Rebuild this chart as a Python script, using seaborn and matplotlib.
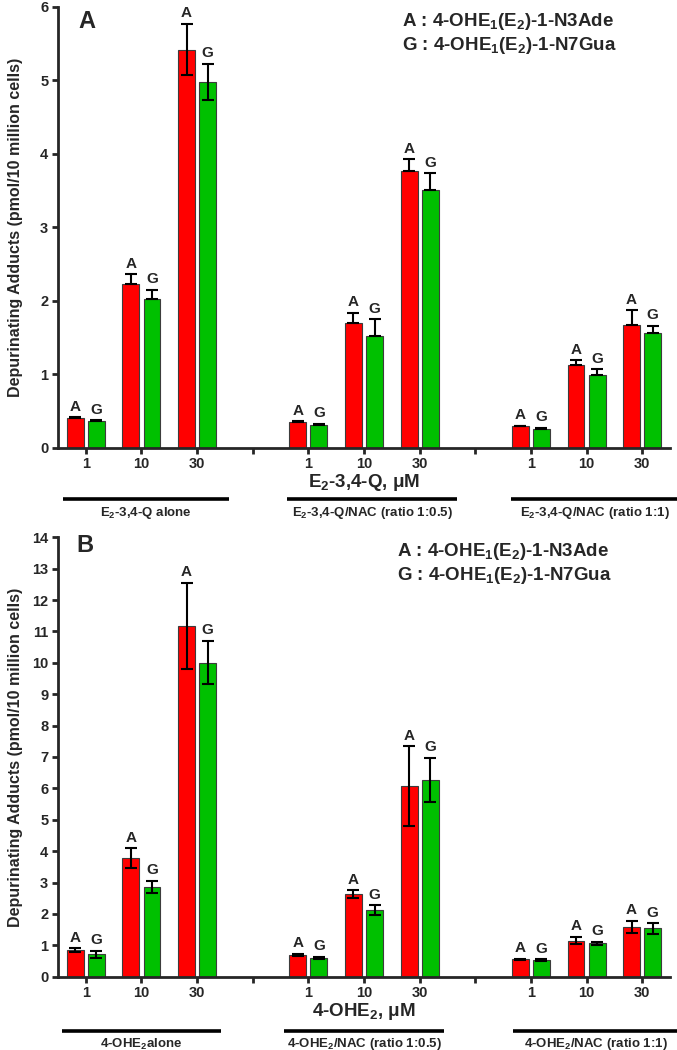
import numpy as np
import pandas as pd
import matplotlib
matplotlib.use("Agg")
import matplotlib.pyplot as plt
import matplotlib.transforms as mtransforms
import seaborn as sns

# ---------------- data ----------------
slots = ['g1_1', 'g1_10', 'g1_30', 'sep1', 'g2_1', 'g2_10', 'g2_30', 'sep2', 'g3_1', 'g3_10', 'g3_30']
slot_labels = ['1', '10', '30', '', '1', '10', '30', '', '1', '10', '30']
data_slots = [s for s in slots if not s.startswith('sep')]
adducts = ['A', 'G']

# Panel A: E2-3,4-Q
a_ade = [0.40, 2.23, 5.42, 0.35, 1.70, 3.77, 0.29, 1.12, 1.67]
a_gua = [0.36, 2.03, 4.98, 0.31, 1.52, 3.51, 0.26, 0.99, 1.56]
a_ade_hi = [0.015, 0.13, 0.35, 0.01, 0.14, 0.16, 0.01, 0.07, 0.20]
a_ade_lo = [0.0, 0.0, 0.35, 0.0, 0.0, 0.0, 0.0, 0.0, 0.0]
a_gua_hi = [0.015, 0.12, 0.25, 0.015, 0.23, 0.23, 0.01, 0.08, 0.10]
a_gua_lo = [0.0, 0.0, 0.25, 0.0, 0.0, 0.0, 0.0, 0.0, 0.0]

# Panel B: 4-OHE2
b_ade = [0.85, 3.77, 11.18, 0.69, 2.63, 6.08, 0.55, 1.15, 1.58]
b_gua = [0.71, 2.87, 10.01, 0.60, 2.12, 6.27, 0.53, 1.06, 1.54]
b_ade_err = [0.06, 0.32, 1.37, 0.04, 0.12, 1.27, 0.02, 0.12, 0.20]
b_gua_err = [0.11, 0.19, 0.70, 0.03, 0.15, 0.71, 0.02, 0.05, 0.17]

ylabel = 'Depurinating Adducts (pmol/10 million cells)'
legend_lines = ['A : 4-OHE$_1$(E$_2$)-1-N3Ade', 'G : 4-OHE$_1$(E$_2$)-1-N7Gua']
a_xlabel = 'E$_2$-3,4-Q, \u03bcM'
b_xlabel = '4-OHE$_2$, \u03bcM'
a_groups = ['E$_2$-3,4-Q alone', 'E$_2$-3,4-Q/NAC (ratio 1:0.5)', 'E$_2$-3,4-Q/NAC (ratio 1:1)']
b_groups = ['4-OHE$_2$alone', '4-OHE$_2$/NAC (ratio 1:0.5)', '4-OHE$_2$/NAC (ratio 1:1)']

# ---------------- style ----------------
sns.set_style('ticks')
plt.rcParams['font.family'] = ['Liberation Sans', 'DejaVu Sans']
plt.rcParams['font.weight'] = 'bold'
plt.rcParams['axes.labelweight'] = 'bold'
plt.rcParams['mathtext.fontset'] = 'custom'
plt.rcParams['mathtext.rm'] = 'Liberation Sans:bold'
plt.rcParams['mathtext.it'] = 'Liberation Sans:bold'
plt.rcParams['mathtext.bf'] = 'Liberation Sans:bold'
plt.rcParams['mathtext.sf'] = 'Liberation Sans:bold'
plt.rcParams['mathtext.default'] = 'rm'

W, H = 677, 1050
fig = plt.figure(figsize=(W / 100, H / 100), dpi=100)

RED = '#FF0000'
GREEN = '#00C000'


def panel(rect_px, ade, gua, ade_lo, ade_hi, gua_lo, gua_hi, ymax, xlabel, groups,
          letter, letter_px, legend_px, below_px, group_lines):
    x0, ytop, x1, ybot = rect_px
    ax = fig.add_axes([x0 / W, 1 - ybot / H, (x1 - x0) / W, (ybot - ytop) / H])
    ah = ybot - ytop
    df = pd.DataFrame({
        'slot': data_slots * 2,
        'adduct': ['A'] * len(ade) + ['G'] * len(gua),
        'value': list(ade) + list(gua),
    })
    sns.barplot(data=df, x='slot', y='value', hue='adduct', order=slots,
                hue_order=adducts, palette={'A': RED, 'G': GREEN},
                width=0.76, gap=0.2, errorbar=None, saturation=1,
                edgecolor='#3c3c3c', linewidth=0.8, legend=False, ax=ax, zorder=2)
    errs = {'A': (ade, ade_lo, ade_hi), 'G': (gua, gua_lo, gua_hi)}
    for cont, ad in zip(ax.containers, adducts):
        means, lo, hi = errs[ad]
        for bar in cont:
            xc = bar.get_x() + bar.get_width() / 2
            i = data_slots.index(slots[int(round(xc))])
            ax.errorbar(xc, means[i], yerr=[[lo[i]], [hi[i]]], fmt='none',
                        ecolor='black', elinewidth=1.5, capsize=4.2, capthick=1.5, zorder=3)
            ax.annotate(ad, (xc, means[i] + hi[i]), xytext=(0, 2.5),
                        textcoords='offset points', ha='center', va='bottom',
                        fontsize=11, fontweight='bold')
    ax.set_ylim(0, ymax)
    ax.set_yticks(range(0, ymax + 1))
    ax.set_xlim(-0.5, 10.5)
    ax.set_xticks(range(len(slots)))
    ax.set_xticklabels(slot_labels)
    ax.set_xlabel('')
    ax.set_ylabel(ylabel, fontsize=11.5, fontweight='bold', labelpad=4)
    sns.despine(ax=ax)
    for sp in ['left', 'bottom']:
        ax.spines[sp].set_linewidth(2)
    ax.tick_params(axis='both', width=2, length=4, labelsize=10.5, direction='out', pad=3)
    for t in ax.get_xticklabels() + ax.get_yticklabels():
        t.set_fontweight('bold')
    ax.yaxis.set_label_coords(-35 / (x1 - x0), 0.5)

    tr = mtransforms.blended_transform_factory(ax.transData, ax.transAxes)
    ax.text(0.5, -(below_px[0] - ybot) / ah, xlabel, transform=ax.transAxes,
            ha='center', va='center', fontsize=13.5, fontweight='bold')
    for (gx0, gx1), g in zip(group_lines, groups):
        yl = -(below_px[1] - ybot) / ah
        ax.plot([gx0, gx1], [yl, yl], transform=tr, color='black', lw=2.6,
                clip_on=False, solid_capstyle='butt')
        ax.text((gx0 + gx1) / 2, -(below_px[2] - ybot) / ah, g, transform=tr,
                ha='center', va='center', fontsize=9.5, fontweight='bold',
                family=['Liberation Sans Narrow', 'Liberation Sans'])

    fig.text(letter_px[0] / W, 1 - letter_px[1] / H, letter, fontsize=17,
             fontweight='bold', ha='center', va='center')
    for k, line in enumerate(legend_lines):
        fig.text(legend_px[0] / W, 1 - legend_px[1 + k] / H, line, fontsize=13.5,
                 fontweight='bold', ha='left', va='center')
    return ax


panel((58, 7, 670, 447.7), a_ade, a_gua, a_ade_lo, a_ade_hi, a_gua_lo, a_gua_hi, 6,
      a_xlabel, a_groups, 'A', (87, 22), (402, 22, 45), (483, 499, 513),
      [(-0.41, 2.58), (3.62, 6.67), (7.64, 10.65)])
panel((58, 537.3, 670, 976.7), b_ade, b_gua, b_ade_err, b_ade_err, b_gua_err, b_gua_err, 14,
      b_xlabel, b_groups, 'B', (85, 545), (397, 551, 575), (1012, 1031, 1044),
      [(-0.43, 2.43), (3.57, 6.43), (7.68, 10.65)])

fig.savefig('out.png', dpi=100)
